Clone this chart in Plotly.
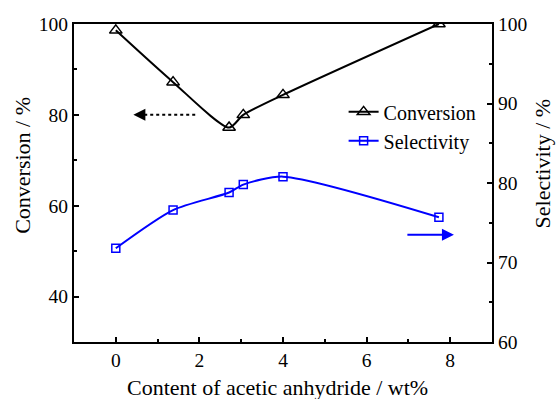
import plotly.graph_objects as go

# Data
content = [0, 1.37, 2.71, 3.05, 4.0, 7.73]
conversion = [98.6, 87.2, 77.2, 80.0, 84.4, 100.0]
selectivity = [71.8, 76.6, 78.8, 79.8, 80.8, 75.7]

FONT = "Liberation Serif"
TICK_FS = 19.5
TITLE_FS = 22
LEG_FS = 20
BLUE = "#0000ff"

fig = go.Figure()
fig.add_trace(go.Scatter(
    x=content, y=conversion, name="Conversion", mode="lines+markers",
    line=dict(color="black", width=2, shape="spline", smoothing=0.7),
    marker=dict(symbol="triangle-up-open", size=11, color="black",
                line=dict(width=1.5, color="black")),
    yaxis="y"))
fig.add_trace(go.Scatter(
    x=content, y=selectivity, name="Selectivity", mode="lines+markers",
    line=dict(color=BLUE, width=2, shape="spline", smoothing=0.7),
    marker=dict(symbol="square-open", size=8, color=BLUE,
                line=dict(width=1.5, color=BLUE)),
    yaxis="y2"))

# Arrows pointing to the axes
fig.add_shape(type="line", x0=1.9, x1=0.62, y0=80, y1=80, xref="x", yref="y",
              line=dict(color="black", width=2, dash="dot"))
fig.add_annotation(x=0.42, y=80, ax=0.68, ay=80, xref="x", yref="y",
                   axref="x", ayref="y", text="", showarrow=True,
                   arrowhead=2, arrowsize=1.2, arrowwidth=2, arrowcolor="black")
fig.add_annotation(x=8.09, y=73.5, ax=6.94, ay=73.5, xref="x", yref="y2",
                   axref="x", ayref="y2", text="", showarrow=True,
                   arrowhead=2, arrowsize=1.2, arrowwidth=2, arrowcolor=BLUE)

# Axis titles
fig.add_annotation(text="Content of acetic anhydride / wt%", xref="paper", yref="paper",
                   x=0.487, y=-0.143, xanchor="center", yanchor="middle",
                   showarrow=False, font=dict(family=FONT, size=TITLE_FS, color="black"))
fig.add_annotation(text="Conversion / %", xref="paper", yref="paper",
                   x=-0.122, y=0.554, xanchor="center", yanchor="middle", textangle=-90,
                   showarrow=False, font=dict(family=FONT, size=TITLE_FS, color="black"))
fig.add_annotation(text="Selectivity / %", xref="paper", yref="paper",
                   x=1.123, y=0.563, xanchor="center", yanchor="middle", textangle=-90,
                   showarrow=False, font=dict(family=FONT, size=TITLE_FS, color="black"))

axis_common = dict(showgrid=False, zeroline=False, showline=True, automargin=False,
                   linecolor="black", linewidth=2, ticks="inside",
                   ticklen=5, tickwidth=1.5, tickcolor="black",
                   tickfont=dict(family=FONT, size=TICK_FS, color="black"))

fig.update_layout(
    width=557, height=399,
    margin=dict(l=74, r=65, t=24, b=57),
    paper_bgcolor="white", plot_bgcolor="white",
    font=dict(family=FONT, size=TICK_FS, color="black"),
    xaxis=dict(range=[-1, 9], dtick=2, tick0=0, mirror=True,
               minor=dict(ticks="inside", ticklen=3, dtick=1, tickcolor="black"),
               **axis_common),
    yaxis=dict(range=[30, 100], dtick=20, tick0=0,
               minor=dict(ticks="inside", ticklen=3, dtick=10, tickcolor="black"),
               **axis_common),
    yaxis2=dict(range=[60, 100], dtick=10, tick0=0, overlaying="y", side="right",
                minor=dict(ticks="inside", ticklen=3, dtick=5, tickcolor="black"),
                **axis_common),
    legend=dict(x=0.645, y=0.785, xanchor="left", yanchor="top",
                bgcolor="rgba(0,0,0,0)", font=dict(family=FONT, size=LEG_FS),
                tracegroupgap=0, itemwidth=30),
    showlegend=True,
)

fig.write_html("out.html")
